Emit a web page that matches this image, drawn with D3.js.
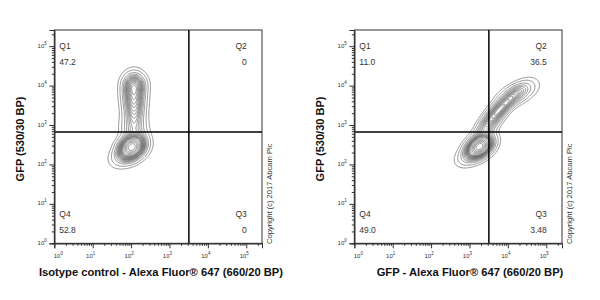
<!DOCTYPE html>
<html>
<head>
<meta charset="utf-8">
<script src="https://cdn.jsdelivr.net/npm/d3@7"></script>
<style>
  body { margin: 0; background: #fff; }
  svg { display: block; font-family: "Liberation Sans", Arial, sans-serif; }
</style>
</head>
<body>
<svg id="chart" width="600" height="300"></svg>
<script>
// ---- data ----
var xTitles = ["Isotype control - Alexa Fluor\u00AE 647 (660/20 BP)", "GFP - Alexa Fluor\u00AE 647 (660/20 BP)"]
var yTitle = "GFP (530/30 BP)"
var copyright = "Copyright (c) 2017 Abcam Plc"
var quadNames = ["Q1", "Q2", "Q3", "Q4"]
var isoQuadValues = ["47.2", "0", "0", "52.8"]
var gfpQuadValues = ["11.0", "36.5", "3.48", "49.0"]
var gateX = 3200
var gateY = 665
var decadeExps = [0, 1, 2, 3, 4, 5]
var axisMax = Math.pow(10, 5.41)
var contourLevels = [0.05, 0.1, 0.15, 0.2, 0.25, 0.3, 0.35, 0.4, 0.45, 0.5, 0.55, 0.6, 0.65, 0.7, 0.75, 0.8, 0.85, 0.9, 0.95, 0.98]

// populations in log10 units: [center x, center y, sd x, sd y, correlation, weight]
var isoPops = [
  [2.02, 2.46, 0.19, 0.17, 0.25, 0.40],
  [1.95, 2.28, 0.25, 0.18, 0.40, 0.12],
  [2.07, 2.92, 0.19, 0.20, 0.00, 0.08],
  [2.08, 3.40, 0.16, 0.28, 0.00, 0.18],
  [2.07, 3.85, 0.17, 0.25, 0.00, 0.20],
  [2.09, 4.05, 0.17, 0.16, 0.00, 0.07]
]
var gfpPops = [
  [3.27, 2.46, 0.19, 0.16, 0.35, 0.40],
  [3.12, 2.30, 0.24, 0.18, 0.50, 0.10],
  [3.52, 3.05, 0.25, 0.32, 0.80, 0.18],
  [3.86, 3.46, 0.27, 0.26, 0.85, 0.18],
  [4.24, 3.80, 0.27, 0.18, 0.55, 0.12]
]

var panels = [
  { left: 54.3, title: xTitles[0], titleX: 161, values: isoQuadValues, pops: isoPops },
  { left: 354.3, title: xTitles[1], titleX: 470, values: gfpQuadValues, pops: gfpPops }
]

var svg = d3.select("#chart")
var plotW = 207.7
var plotTop = 30
var plotBottom = 243.3

var y = d3.scaleLog().domain([1, axisMax]).range([plotBottom, plotTop])

var minorTicks = []
decadeExps.forEach(function(e) {
  for (var k = 2; k <= 9; k++) {
    var v = k * Math.pow(10, e)
    if (v < axisMax) minorTicks.push(v)
  }
})
var majorTicks = decadeExps.map(function(e) { return Math.pow(10, e) })

// density grid for contours
var n = 240
var span = Math.log10(axisMax)
var step = span / n

function density(pops) {
  var values = new Float64Array(n * n)
  for (var j = 0; j < n; j++) {
    var ly = (j + 0.5) * step
    for (var i = 0; i < n; i++) {
      var lx = (i + 0.5) * step
      var s = 0
      pops.forEach(function(p) {
        var dx = (lx - p[0]) / p[2]
        var dy = (ly - p[1]) / p[3]
        var r = p[4]
        var q = (dx * dx - 2 * r * dx * dy + dy * dy) / (1 - r * r)
        s += p[5] / (p[2] * p[3] * Math.sqrt(1 - r * r)) * Math.exp(-q / 2)
      })
      values[j * n + i] = s
    }
  }
  return values
}

// equal probability levels
function levels(values) {
  var sorted = Array.from(values).sort(function(a, b) { return b - a })
  var total = d3.sum(sorted)
  var out = []
  var cum = 0, t = 0
  for (var i = 0; i < sorted.length && t < contourLevels.length; i++) {
    cum += sorted[i]
    if (cum / total >= contourLevels[t]) { out.push(sorted[i]); t++ }
  }
  return out.reverse()
}

panels.forEach(function(pn, idx) {
  var x = d3.scaleLog().domain([1, axisMax]).range([pn.left, pn.left + plotW])
  var g = svg.append("g")

  var clipId = "clip" + idx
  svg.append("clipPath").attr("id", clipId).append("rect")
    .attr("x", pn.left).attr("y", plotTop).attr("width", plotW).attr("height", plotBottom - plotTop)

  // contours
  var values = density(pn.pops)
  var contours = d3.contours().size([n, n]).thresholds(levels(values))(values)
  var proj = d3.geoTransform({
    point: function(gx, gy) {
      this.stream.point(x(Math.pow(10, gx * step)), y(Math.pow(10, gy * step)))
    }
  })
  g.append("g").attr("clip-path", "url(#" + clipId + ")")
    .selectAll("path").data(contours).join("path")
    .attr("d", d3.geoPath(proj))
    .attr("fill", "none")
    .attr("stroke", "#666")
    .attr("stroke-width", 0.7)

  // frame
  g.append("rect").attr("x", pn.left).attr("y", plotTop).attr("width", plotW).attr("height", plotBottom - plotTop)
    .attr("fill", "none").attr("stroke", "#333").attr("stroke-width", 1)

  // quadrant gates
  g.append("line").attr("x1", x(gateX)).attr("x2", x(gateX)).attr("y1", plotTop).attr("y2", plotBottom)
    .attr("stroke", "#000").attr("stroke-width", 1.5)
  g.append("line").attr("x1", pn.left).attr("x2", pn.left + plotW).attr("y1", y(gateY)).attr("y2", y(gateY))
    .attr("stroke", "#000").attr("stroke-width", 1.5)

  // axes
  var ax = [
    [d3.axisBottom(x).tickValues(majorTicks).tickSize(5), "translate(0," + plotBottom + ")"],
    [d3.axisBottom(x).tickValues(minorTicks).tickSize(2.5), "translate(0," + plotBottom + ")"],
    [d3.axisLeft(y).tickValues(majorTicks).tickSize(5), "translate(" + pn.left + ",0)"],
    [d3.axisLeft(y).tickValues(minorTicks).tickSize(2.5), "translate(" + pn.left + ",0)"]
  ]
  ax.forEach(function(a) {
    var sel = g.append("g").attr("transform", a[1]).call(a[0].tickFormat(""))
    sel.select(".domain").attr("stroke", "#333")
    sel.selectAll(".tick line").attr("stroke", "#333")
  })

  // tick labels 10^n
  decadeExps.forEach(function(e) {
    var v = Math.pow(10, e)
    var tx = x(v) + (e === 0 ? 6 : 0)
    var t = g.append("text").attr("x", tx - 2).attr("y", 258)
      .attr("font-size", 6).attr("fill", "#333").attr("text-anchor", "middle")
    t.append("tspan").text("10")
    t.append("tspan").attr("dy", -3).attr("font-size", 4.5).text(e)

    var t2 = g.append("text").attr("x", pn.left - 7.5).attr("y", y(v) + 1.5)
      .attr("font-size", 6).attr("fill", "#333").attr("text-anchor", "end")
    t2.append("tspan").text("10")
    t2.append("tspan").attr("dy", -3).attr("font-size", 4.5).text(e)
  })

  // quadrant labels
  var qs = [
    [quadNames[0], pn.values[0], pn.left + 5, "start", 49],
    [quadNames[1], pn.values[1], pn.left + 192.5, "end", 49],
    [quadNames[2], pn.values[2], pn.left + 192.5, "end", 217],
    [quadNames[3], pn.values[3], pn.left + 5, "start", 217]
  ]
  qs.forEach(function(q) {
    g.append("text").attr("x", q[2]).attr("y", q[4]).attr("text-anchor", q[3])
      .attr("font-size", 8.5).attr("fill", "#333").text(q[0])
    g.append("text").attr("x", q[2]).attr("y", q[4] + 16).attr("text-anchor", q[3])
      .attr("font-size", 8.5).attr("fill", "#333").text(q[1])
  })

  // titles
  g.append("text").attr("x", pn.titleX).attr("y", 276).attr("text-anchor", "middle")
    .attr("font-size", 11.2).attr("font-weight", "bold").attr("fill", "#111").text(pn.title)
  g.append("text").attr("transform", "translate(" + (pn.left - 30) + ",139) rotate(-90)")
    .attr("text-anchor", "middle").attr("font-size", 11).attr("font-weight", "bold")
    .attr("fill", "#111").text(yTitle)
  g.append("text").attr("transform", "translate(" + (pn.left + plotW + 10) + ",244) rotate(-90)")
    .attr("text-anchor", "start").attr("font-size", 7.6).attr("fill", "#333").text(copyright)
})
</script>
</body>
</html>
